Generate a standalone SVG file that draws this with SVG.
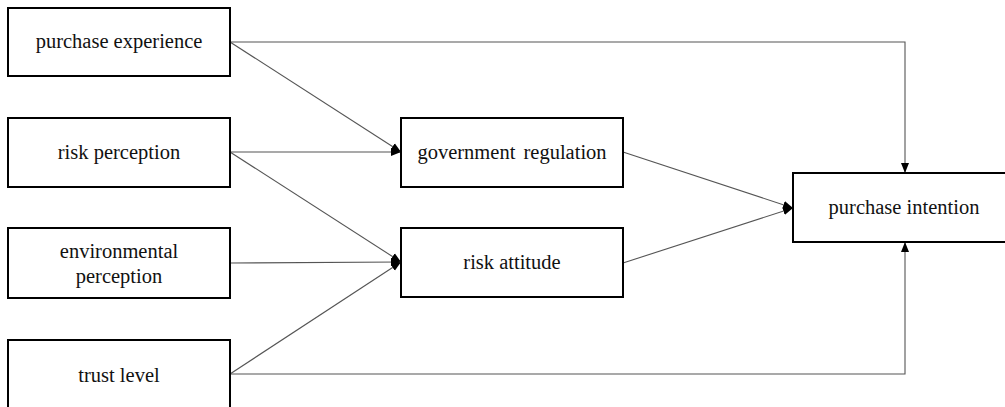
<svg xmlns="http://www.w3.org/2000/svg" width="1005" height="407" viewBox="0 0 1005 407">
<style>
.box{fill:#fff;stroke:#000;stroke-width:2}
.lbl{font-family:'Liberation Serif','DejaVu Serif',serif;font-size:20.5px;fill:#111;text-anchor:middle}
.c{fill:none;stroke:#555;stroke-width:1.1}
</style>
<defs>
<marker id="ah" viewBox="0 0 10 10" refX="10" refY="5" markerWidth="10" markerHeight="10" markerUnits="userSpaceOnUse" orient="auto">
<path d="M0,1 L10,5 L0,9 Z" fill="#000"/>
</marker>
</defs>
<rect width="1005" height="407" fill="#fff"/>
<g id="connectors">
<path class="c" d="M230,42 H905 V173" marker-end="url(#ah)"/>
<path class="c" d="M230,374 H905 V242" marker-end="url(#ah)"/>
<path class="c" d="M230,42 L401,152" marker-end="url(#ah)"/>
<path class="c" d="M230,152 L401,152" marker-end="url(#ah)"/>
<path class="c" d="M230,152 L401,262" marker-end="url(#ah)"/>
<path class="c" d="M230,263 L401,262" marker-end="url(#ah)"/>
<path class="c" d="M230,374 L401,262" marker-end="url(#ah)"/>
<path class="c" d="M623,152 L793,208" marker-end="url(#ah)"/>
<path class="c" d="M623,263 L793,208" marker-end="url(#ah)"/>
</g>
<g id="purchase_experience">
<rect class="box" x="8" y="8" width="222" height="68"/>
<text class="lbl" x="119" y="48">purchase experience</text>
</g>
<g id="risk_perception">
<rect class="box" x="8" y="118" width="222" height="69"/>
<text class="lbl" x="119" y="159">risk perception</text>
</g>
<g id="environmental_perception">
<rect class="box" x="8" y="228" width="222" height="70"/>
<text class="lbl" x="119" y="258">environmental</text>
<text class="lbl" x="119" y="283">perception</text>
</g>
<g id="trust_level">
<rect class="box" x="8" y="340" width="222" height="72"/>
<text class="lbl" x="119" y="382">trust level</text>
</g>
<g id="government_regulation">
<rect class="box" x="401" y="118" width="222" height="69"/>
<text class="lbl" x="512" y="159" word-spacing="3">government regulation</text>
</g>
<g id="risk_attitude">
<rect class="box" x="401" y="228" width="222" height="69"/>
<text class="lbl" x="512" y="269">risk attitude</text>
</g>
<g id="purchase_intention">
<rect class="box" x="793" y="173" width="222" height="69"/>
<text class="lbl" x="904" y="214">purchase intention</text>
</g>
</svg>
